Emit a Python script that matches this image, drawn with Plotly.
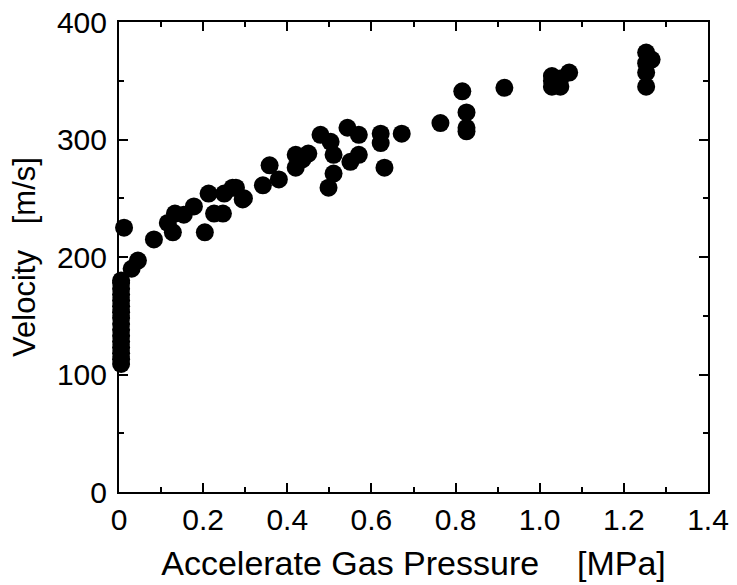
import plotly.graph_objects as go

pressure = [0.005]*16 + [
    0.012, 0.030, 0.045, 0.083, 0.116, 0.128, 0.133, 0.154, 0.178, 0.204,
    0.213, 0.226, 0.247, 0.250, 0.270, 0.278, 0.294, 0.297, 0.342, 0.358,
    0.380, 0.420, 0.420, 0.436, 0.450, 0.479, 0.503, 0.510, 0.510, 0.498,
    0.543, 0.570, 0.550, 0.570, 0.622, 0.622, 0.631, 0.672,
    0.764, 0.816, 0.826, 0.826, 0.826, 0.916,
    1.029, 1.029, 1.029, 1.049, 1.049, 1.070,
    1.253, 1.266, 1.253, 1.253, 1.253]
velocity = [109, 113, 118, 123, 128, 133, 138, 143, 148, 153, 158, 163, 168, 173, 178, 180] + [
    225, 190, 197, 215, 229, 221, 237, 236, 243, 221,
    254, 237, 237, 254, 259, 259, 249, 250, 261, 278,
    266, 276, 287, 283, 288, 304, 298, 287, 271, 259,
    310, 304, 281, 287, 305, 297, 276, 305,
    314, 341, 323, 310, 307, 344,
    354, 345, 350, 345, 352, 357,
    374, 368, 357, 345, 365]

x_tickvals = [0, 0.2, 0.4, 0.6, 0.8, 1.0, 1.2, 1.4]
x_ticktext = ["0", "0.2", "0.4", "0.6", "0.8", "1.0", "1.2", "1.4"]
y_tickvals = [0, 100, 200, 300, 400]
y_ticktext = ["0", "100", "200", "300", "400"]

fig = go.Figure()
fig.add_trace(go.Scatter(
    x=pressure, y=velocity, mode="markers",
    marker=dict(size=18, color="black", line=dict(width=0)),
    showlegend=False, cliponaxis=False))

font = "Liberation Sans, Arial, sans-serif"
fig.update_layout(
    width=737, height=585,
    margin=dict(l=119, r=29, t=22, b=93),
    plot_bgcolor="white", paper_bgcolor="white",
    font=dict(family=font, color="black", size=30),
)
fig.update_xaxes(
    range=[0, 1.4], tickvals=x_tickvals, ticktext=x_ticktext,
    ticks="inside", ticklen=9, tickwidth=1.5, tickcolor="black",
    minor=dict(dtick=0.1, ticks="inside", ticklen=5, tickwidth=1.5, tickcolor="black", showgrid=False),
    showline=True, linewidth=2, linecolor="black", mirror="ticks",
    showgrid=False, zeroline=False, automargin=False,
    tickfont=dict(size=30),
    title=dict(text="Accelerate Gas Pressure    [MPa]", font=dict(size=34), standoff=16),
)
fig.update_yaxes(
    range=[0, 400], tickvals=y_tickvals, ticktext=y_ticktext,
    ticks="inside", ticklen=9, tickwidth=1.5, tickcolor="black",
    minor=dict(dtick=50, ticks="inside", ticklen=5, tickwidth=1.5, tickcolor="black", showgrid=False),
    showline=True, linewidth=2, linecolor="black", mirror="ticks",
    showgrid=False, zeroline=False, automargin=False,
    tickfont=dict(size=30), ticklabelstandoff=4,
    title=dict(text="Velocity   [m/s]", font=dict(size=31), standoff=12),
)
fig.write_html("out.html")
